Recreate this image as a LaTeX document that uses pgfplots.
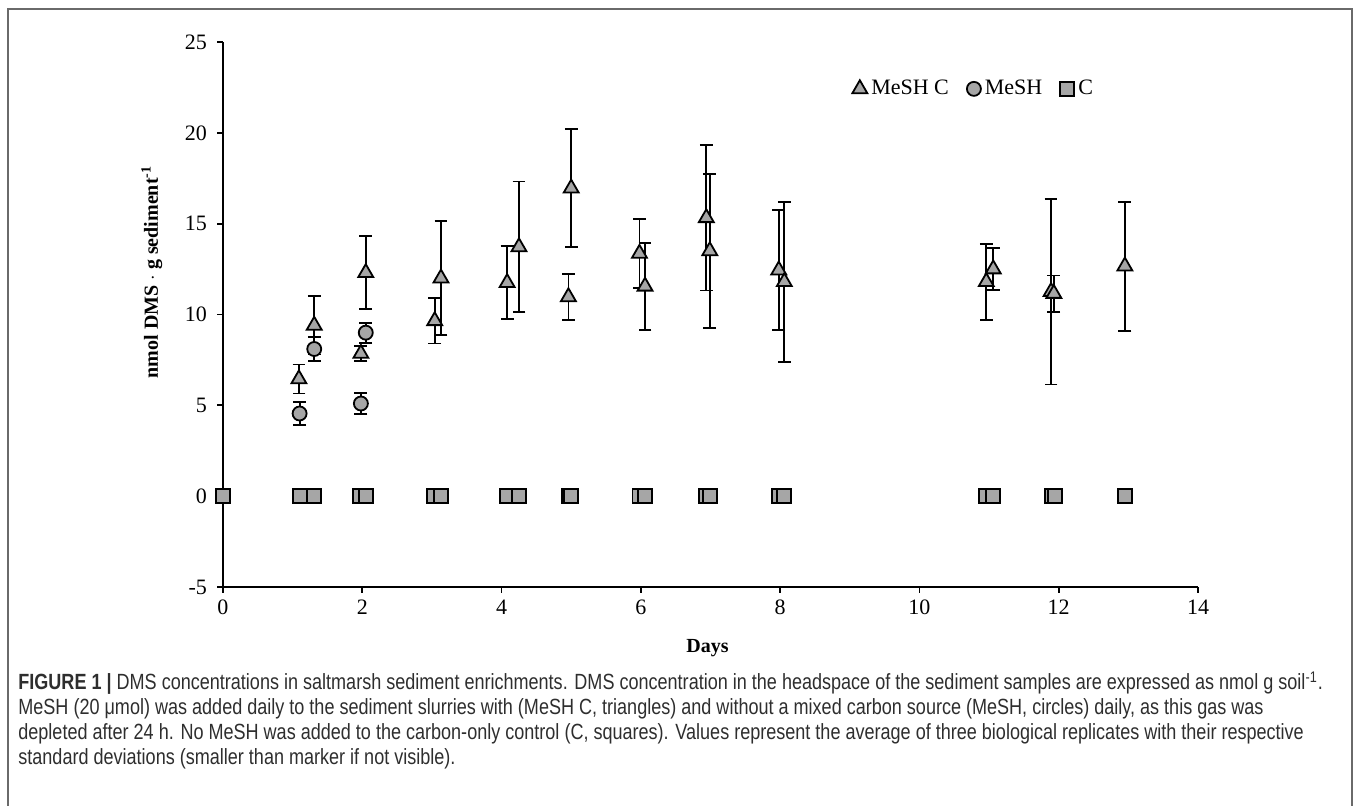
\documentclass[border=0pt]{standalone}
\usepackage{pgfplots}
\pgfplotsset{compat=1.18}
\usepackage{fontspec}
\setmainfont{Liberation Serif}
\newfontfamily\capfont[FakeStretch=0.82]{Liberation Sans}
\definecolor{mk}{HTML}{A6A6A6}
\definecolor{framecol}{HTML}{6A6A6A}
\definecolor{captxt}{HTML}{2E2E2E}

\pgfplotstableread{
x y e
1.09 6.45 0.80
1.31 9.40 1.60
1.98 7.85 0.40
2.05 12.30 2.00
3.04 9.65 1.25
3.13 12.00 3.15
4.08 11.75 2.00
4.25 13.72 3.60
4.96 10.97 1.27
5.00 16.95 3.25
5.98 13.36 1.90
6.06 11.55 2.40
6.94 15.32 4.00
6.99 13.50 4.25
7.98 12.44 3.30
8.06 11.80 4.40
10.96 11.80 2.10
11.06 12.50 1.15
11.89 11.25 5.10
11.93 11.15 1.00
12.95 12.66 3.55
}\meshc

\pgfplotstableread{
x y e
1.10 4.55 0.62
1.31 8.10 0.65
1.98 5.10 0.57
2.05 9.00 0.55
}\mesh

\pgfplotstableread{
x y e
0.00 0 0
1.10 0 0
1.31 0 0
1.97 0 0
2.05 0 0
3.03 0 0
3.13 0 0
4.08 0 0
4.25 0 0
4.97 0 0
5.00 0 0
5.98 0 0
6.06 0 0
6.94 0 0
6.99 0 0
7.98 0 0
8.06 0 0
10.96 0 0
11.06 0 0
11.90 0 0
11.95 0 0
12.95 0 0
}\ctrl

\begin{document}
\begin{tikzpicture}
\useasboundingbox (0,0) rectangle (678.5pt,403pt);
\draw[framecol, line width=0.9pt] (4pt,0pt) -- (4pt,398.5pt) -- (676pt,398.5pt) -- (676pt,0pt);
\begin{axis}[
  at={(111.5pt,109.5pt)}, anchor=south west,
  scale only axis, width=487.5pt, height=272.5pt,
  xmin=0, xmax=14, ymin=-5, ymax=25,
  axis x line*=bottom, axis y line*=left,
  axis line style={-, line width=0.9pt, black},
  xtick={0,2,4,6,8,10,12,14},
  xticklabels={0,2,4,6,8,10,12,14},
  ytick={-5,0,5,10,15,20,25},
  yticklabels={-5,0,5,10,15,20,25},
  tick align=outside,
  major tick length=3pt,
  tick style={line width=0.9pt, black},
  ticklabel style={font=\fontsize{11}{13}\selectfont},
  yticklabel style={xshift=-1.5pt},
  xlabel={\textbf{Days}},
  ylabel={\textbf{nmol DMS $\cdot$ g sediment\textsuperscript{-1}}},
  xlabel style={font=\fontsize{11.5}{13}\selectfont},
  ylabel style={font=\fontsize{13}{15}\selectfont},
  every axis x label/.style={at={(axis description cs:0.497,-0.112)}, anchor=center},
  every axis y label/.style={at={(axis description cs:-0.073,0.578)}, anchor=center, rotate=90},
  clip=false,
  legend style={draw=none, fill=none, at={(axis description cs:0.771,0.914)}, anchor=center,
    legend columns=3, font=\fontsize{11}{13}\selectfont, inner sep=0pt,
    /tikz/every even column/.append style={column sep=7pt},
    cells={inner xsep=0.5pt}},
  legend image code/.code={\draw[#1] plot coordinates {(0.12cm,0cm)};},
]
\addplot[only marks, mark=triangle*, mark size=4.3pt,
  mark options={fill=mk, draw=black, line width=0.9pt},
  error bars/.cd, y dir=both, y explicit,
  error bar style={line width=0.9pt, black},
  error mark options={rotate=90, mark size=3.2pt, line width=0.9pt, black}]
  table[x=x, y=y, y error=e] {\meshc};
\addlegendentry{MeSH C}
\addplot[only marks, mark=*, mark size=3.5pt,
  mark options={fill=mk, draw=black, line width=0.9pt},
  error bars/.cd, y dir=both, y explicit,
  error bar style={line width=0.9pt, black},
  error mark options={rotate=90, mark size=3.2pt, line width=0.9pt, black}]
  table[x=x, y=y, y error=e] {\mesh};
\addlegendentry{MeSH}
\addplot[only marks, mark=square*, mark size=3.5pt,
  mark options={fill=mk, draw=black, line width=0.9pt}]
  table[x=x, y=y] {\ctrl};
\addlegendentry{C}
\end{axis}
\begin{scope}[captxt, font=\capfont\fontsize{11}{13}\selectfont]
\node[anchor=base west, inner sep=0pt] at (9pt,58pt) {\textbf{FIGURE 1 |} DMS concentrations in saltmarsh sediment enrichments. DMS concentration in the headspace of the sediment samples are expressed as nmol g soil\textsuperscript{-1}.};
\node[anchor=base west, inner sep=0pt] at (9pt,45.5pt) {MeSH (20 μmol) was added daily to the sediment slurries with (MeSH C, triangles) and without a mixed carbon source (MeSH, circles) daily, as this gas was};
\node[anchor=base west, inner sep=0pt] at (9pt,33pt) {depleted after 24 h. No MeSH was added to the carbon-only control (C, squares). Values represent the average of three biological replicates with their respective};
\node[anchor=base west, inner sep=0pt] at (9pt,20.5pt) {standard deviations (smaller than marker if not visible).};
\end{scope}
\end{tikzpicture}
\end{document}
